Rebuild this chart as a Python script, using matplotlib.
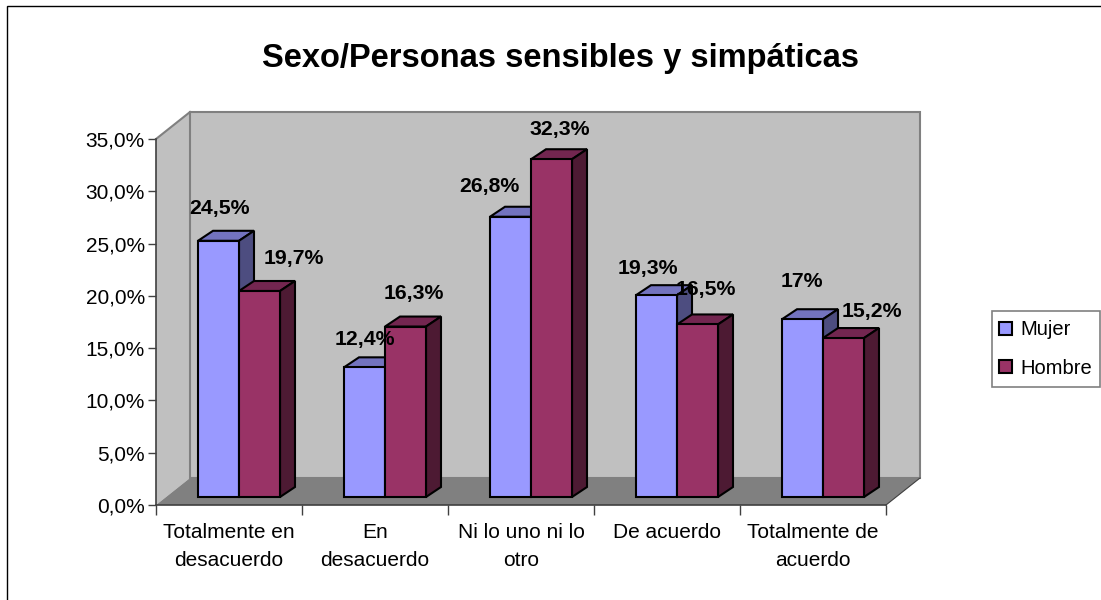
import numpy as np
import matplotlib
matplotlib.use("Agg")
import matplotlib.pyplot as plt
from matplotlib.patches import Polygon, Rectangle

plt.rcParams['font.family'] = ['Liberation Sans', 'DejaVu Sans']

# Datos
categorias = ["Totalmente en\ndesacuerdo", "En\ndesacuerdo", "Ni lo uno ni lo\notro",
              "De acuerdo", "Totalmente de\nacuerdo"]
mujer = [24.5, 12.4, 26.8, 19.3, 17.0]
hombre = [19.7, 16.3, 32.3, 16.5, 15.2]
etiquetas_mujer = ["24,5%", "12,4%", "26,8%", "19,3%", "17%"]
etiquetas_hombre = ["19,7%", "16,3%", "32,3%", "16,5%", "15,2%"]
ticks_y = [0, 5, 10, 15, 20, 25, 30, 35]

# Desplazamiento de cada etiqueta respecto a su barra (pixeles)
despl_mujer = [(1, 32), (0, 28), (-21, 30), (-9, 27), (-1, 38)]
despl_hombre = [(34, 32), (8, 33), (8, 30), (8, 35), (28, 27)]

# Colores
azul, azul_top, azul_lado = '#9999FF', '#7373BF', '#4D4D80'
rojo, rojo_top, rojo_lado = '#993366', '#732650', '#4D1A33'
gris_pared, gris_suelo, gris_linea = '#C0C0C0', '#808080', '#808080'

W, H = 1101, 600
fig = plt.figure(figsize=(W / 100, H / 100), dpi=100)

# Marco exterior
fig.add_artist(Rectangle((7 / W, -0.01), (W - 5.0) / W, 1.0 - 6 / H + 0.01, transform=fig.transFigure,
                         fill=False, ec='black', lw=1))

# Ejes: en pixeles 156..886 y 505..139
ax = fig.add_axes([156 / W, 1 - 505 / H, 730 / W, 366 / H])
ax.set_xlim(0, 5)
ax.set_ylim(0, 35)
ax.patch.set_visible(False)

px_x = 5 / 730
px_y = 35 / 366
prof_x = 34 * px_x   # profundidad de la pared
prof_y = 27 * px_y

# Pared de fondo, lateral y suelo
ax.add_patch(Polygon([(0, 0), (prof_x, prof_y), (prof_x, 35 + prof_y), (0, 35)], fc=gris_pared, ec='none',
                     zorder=1, clip_on=False))
ax.add_patch(Polygon([(prof_x, prof_y), (5 + prof_x, prof_y), (5 + prof_x, 35 + prof_y), (prof_x, 35 + prof_y)],
                     fc=gris_pared, ec=gris_linea, lw=1.5, zorder=1, clip_on=False))
ax.add_patch(Polygon([(0, 0), (5, 0), (5 + prof_x, prof_y), (prof_x, prof_y)], fc=gris_suelo, ec='none',
                     zorder=1.5, clip_on=False))
ax.plot([0, prof_x], [35, 35 + prof_y], color=gris_linea, lw=1.5, zorder=1.6, clip_on=False)
ax.plot([5, 5 + prof_x], [0, prof_y], color='#404040', lw=0.8, zorder=1.6, clip_on=False)

# Barras
x = np.arange(5)
ancho = 41 * px_x
inicio = x + 42 * px_x
base = 8 * px_y
dx = 15 * px_x
dy = 10 * px_y


def barras(xs, vals, cf, ct, cl, z):
    ax.bar(xs, vals, width=ancho, bottom=base, align='edge', color=cf, ec='black', lw=1.5, zorder=z, clip_on=False)
    for xi, v in zip(xs, vals):
        top = base + v
        ax.add_patch(Polygon([(xi, top), (xi + ancho, top), (xi + ancho + dx, top + dy), (xi + dx, top + dy)],
                             fc=ct, ec='black', lw=1.5, zorder=z - 0.1, clip_on=False))
        ax.add_patch(Polygon([(xi + ancho, base), (xi + ancho + dx, base + dy), (xi + ancho + dx, top + dy), (xi + ancho, top)],
                             fc=cl, ec='black', lw=1.5, zorder=z - 0.1, clip_on=False))


barras(inicio, mujer, azul, azul_top, azul_lado, 3)
barras(inicio + ancho, hombre, rojo, rojo_top, rojo_lado, 4)

# Etiquetas de datos
for xi, v, t, d in zip(inicio + ancho / 2, mujer, etiquetas_mujer, despl_mujer):
    ax.annotate(t, (xi, base + v), xytext=(d[0] * 0.72, d[1] * 0.72), textcoords='offset points', ha='center',
                va='center', fontsize=15.3, fontweight='bold', zorder=6, annotation_clip=False)
for xi, v, t, d in zip(inicio + ancho * 1.5, hombre, etiquetas_hombre, despl_hombre):
    ax.annotate(t, (xi, base + v), xytext=(d[0] * 0.72, d[1] * 0.72), textcoords='offset points', ha='center',
                va='center', fontsize=15.3, fontweight='bold', zorder=6, annotation_clip=False)

# Ejes y ticks
for s in ['top', 'right']:
    ax.spines[s].set_visible(False)
for s in ['left', 'bottom']:
    ax.spines[s].set_color('#404040')
    ax.spines[s].set_linewidth(1.2)
    ax.spines[s].set_zorder(2)
ax.set_yticks(ticks_y)
ax.set_yticklabels([f"{v:.1f}%".replace('.', ',') for v in ticks_y], fontsize=15)
ax.set_xticks(np.arange(6))
ax.set_xticklabels([])
ax.set_xticks(x + 0.5, categorias, minor=True, fontsize=15, linespacing=1.58, va='top')
ax.tick_params(axis='x', which='major', length=7, width=1, color='#404040')
ax.tick_params(axis='x', which='minor', length=0, pad=13)
ax.tick_params(axis='y', length=6, width=1, color='#404040', pad=2)

# Titulo
fig.text(560 / W, 1 - 58 / H, "Sexo/Personas sensibles y simpáticas", ha='center', va='center',
         fontsize=23.5, fontweight='bold')

# Leyenda
fig.add_artist(Rectangle((992 / W, 1 - 387 / H), 108 / W, 76 / H, transform=fig.transFigure,
                         fc='white', ec=gris_linea, lw=1.2))
h1 = Rectangle((0, 0), 1, 1, fc=azul, ec='black', lw=1.5)
h2 = Rectangle((0, 0), 1, 1, fc=rojo, ec='black', lw=1.5)
leg = fig.legend([h1, h2], ["Mujer", "Hombre"], loc='center', bbox_to_anchor=(1045.5 / W, 1 - 349 / H),
                 fontsize=14.5, frameon=False, handlelength=0.65, handleheight=0.65,
                 handletextpad=0.45, labelspacing=0.95, borderpad=0, borderaxespad=0)
leg.set_zorder(5)

fig.savefig("out.png", dpi=100)
